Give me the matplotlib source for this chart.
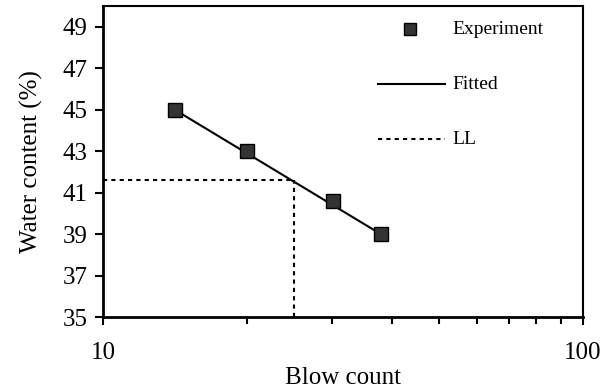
import numpy as np
import matplotlib
matplotlib.use("Agg")
import matplotlib.pyplot as plt
from matplotlib.ticker import FixedLocator, NullFormatter, FixedFormatter

plt.rcParams['font.family'] = ['Liberation Serif', 'DejaVu Serif']

# data
blow_count = [14.1, 20.0, 30.1, 37.9]
water_content = [45.0, 43.0, 40.6, 39.0]
fit_x = [14.1, 37.9]
fit_y = [45.0, 39.0]
ll_blows = 25.0
ll_water = 41.6

fig = plt.figure(figsize=(6.02, 3.91), dpi=100)
ax = fig.add_axes([103 / 602, 1 - 317 / 391, 480 / 602, 311 / 391])

ax.plot(fit_x, fit_y, color="black", linewidth=1.5, zorder=2)
ax.plot(blow_count, water_content, linestyle="none", marker="s", markersize=10,
        markerfacecolor="#333333", markeredgecolor="black", zorder=3)
ax.plot([10, ll_blows], [ll_water, ll_water], color="black", linestyle=(0, (2, 2)),
        linewidth=1.5, zorder=1)
ax.plot([ll_blows, ll_blows], [35, ll_water], color="black", linestyle=(0, (2, 2)),
        linewidth=1.5, zorder=1)

ax.set_xscale("log")
ax.set_xlim(10, 100)
ax.set_ylim(35, 50)
ax.xaxis.set_major_locator(FixedLocator([10, 100]))
ax.xaxis.set_major_formatter(FixedFormatter(["10", "100"]))
ax.xaxis.set_minor_locator(FixedLocator([20, 30, 40, 50, 60, 70, 80, 90]))
ax.xaxis.set_minor_formatter(NullFormatter())
ax.set_yticks([35, 37, 39, 41, 43, 45, 47, 49])

ax.tick_params(axis="y", which="major", direction="out", length=6, width=1.5,
               labelsize=18, pad=5)
ax.tick_params(axis="x", which="major", direction="out", length=6, width=1.5,
               labelsize=18, pad=12)
ax.tick_params(axis="x", which="minor", direction="out", length=5, width=1.5)
for side in ["left", "bottom"]:
    ax.spines[side].set_linewidth(2)
for side in ["top", "right"]:
    ax.spines[side].set_linewidth(1.5)

ax.set_xlabel("Blow count", fontsize=18, labelpad=2)
ax.set_ylabel("Water content (%)", fontsize=18, labelpad=14)

# hand-placed legend in axes coordinates
ax.plot([0.639], [0.925], transform=ax.transAxes, marker="s", markersize=9,
        markerfacecolor="#333333", markeredgecolor="black", linestyle="none")
ax.text(0.728, 0.925, "Experiment", transform=ax.transAxes, fontsize=14, va="center")
ax.plot([0.573, 0.713], [0.748, 0.748], transform=ax.transAxes, color="black", linewidth=1.5)
ax.text(0.728, 0.748, "Fitted", transform=ax.transAxes, fontsize=14, va="center")
ax.plot([0.573, 0.713], [0.571, 0.571], transform=ax.transAxes, color="black",
        linestyle=(0, (2, 2)), linewidth=1.5)
ax.text(0.728, 0.571, "LL", transform=ax.transAxes, fontsize=14, va="center")

plt.savefig("out.png", dpi=100)
plt.close()
